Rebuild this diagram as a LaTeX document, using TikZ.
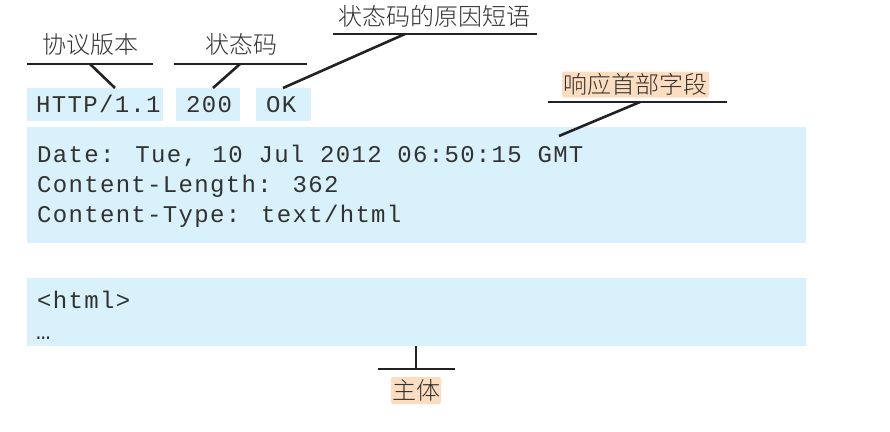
\documentclass[tikz,border=0pt]{standalone}
\usepackage{fontspec}
\newfontfamily\monof[LetterSpace=5.5]{Liberation Mono}
\newfontfamily\cjk{Noto Sans CJK SC Light}
\definecolor{boxblue}{RGB}{217,241,250}
\definecolor{hlorange}{RGB}{253,221,192}
\definecolor{ink}{RGB}{34,34,34}
\definecolor{txt}{RGB}{50,50,50}
\tikzset{
  box/.style={fill=boxblue, draw=none, anchor=north west, inner sep=0pt},
  mono/.style={font=\monof\fontsize{24}{30}\selectfont, text=txt, anchor=base west, inner sep=0pt},
  lab/.style={font=\cjk\fontsize{24}{28}\selectfont, text=txt, inner sep=0pt},
  hl/.style={lab, fill=hlorange, rounded corners=2pt},
  conn/.style={draw=ink, line width=2.6pt}
}
\begin{document}
\begin{tikzpicture}[x=1pt,y=-1pt]
\useasboundingbox (0,0) rectangle (890,431);
% boxes
\node[box, minimum width=136pt, minimum height=33pt] (vbox) at (27,88) {};
\node[box, minimum width=64pt, minimum height=33pt] (sbox) at (176,88) {};
\node[box, minimum width=55pt, minimum height=33pt] (rbox) at (256,88) {};
\node[box, minimum width=779pt, minimum height=116pt] (hbox) at (27,127) {};
\node[box, minimum width=779pt, minimum height=68pt] (bbox) at (27,278) {};
% texts
\node[mono] (vtext) at (36,112) {HTTP/1.1};
\node[mono] (stext) at (186,112) {200};
\node[mono] (rtext) at (266,112) {OK};
\node[mono] (h1) at (37,162) {Date: Tue, 10 Jul 2012 06:50:15 GMT};
\node[mono] (h2) at (37,192) {Content-Length: 362};
\node[mono] (h3) at (37,222) {Content-Type: text/html};
\node[mono] (b1) at (37,308) {<html>};
\node[mono] (b2) at (36,339) {…};
% labels
\node[lab] (lver) at (90,44) {协议版本};
\node[lab] (lstat) at (241,44) {状态码};
\node[lab] (lreason) at (434,16) {状态码的原因短语};
\node[hl, minimum width=147pt, minimum height=26pt] (lhead) at (635.5,84.5) {响应首部字段};
\node[hl, minimum width=50pt, minimum height=27pt] (lbody) at (416,390.5) {主体};
% underline coordinates
\coordinate (u1a) at (27,64); \coordinate (u1b) at (153,64);
\coordinate (u2a) at (174,64); \coordinate (u2b) at (307,64);
\coordinate (u3a) at (333,34); \coordinate (u3b) at (537,34);
\coordinate (u4a) at (548,102); \coordinate (u4b) at (727,102);
\coordinate (u5a) at (378,369); \coordinate (u5b) at (455,369);
% connector ends
\coordinate (c1a) at (90,64); \coordinate (c1b) at (115,88);
\coordinate (c2a) at (240,64); \coordinate (c2b) at (213,88);
\coordinate (c3a) at (405,34); \coordinate (c3b) at (283,88);
\coordinate (c4a) at (640,102); \coordinate (c4b) at (559,136);
\coordinate (c5a) at (416,369); \coordinate (c5b) at (416,346);
\draw[conn] (u1a) -- (u1b); \draw[conn] (c1a) -- (c1b);
\draw[conn] (u2a) -- (u2b); \draw[conn] (c2a) -- (c2b);
\draw[conn] (u3a) -- (u3b); \draw[conn] (c3a) -- (c3b);
\draw[conn] (u4a) -- (u4b); \draw[conn] (c4a) -- (c4b);
\draw[conn] (u5a) -- (u5b); \draw[conn] (c5a) -- (c5b);
\end{tikzpicture}
\end{document}
